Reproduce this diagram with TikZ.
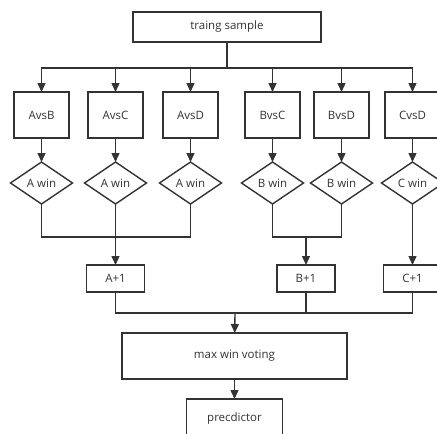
\documentclass[tikz,border=0pt]{standalone}
\usepackage{fontspec}
\setmainfont{Open Sans}
\usepackage{tikz}
\usetikzlibrary{positioning, arrows.meta, shapes.geometric}
\definecolor{ink}{HTML}{333333}
\definecolor{txt}{HTML}{333333}

\begin{document}
\begin{tikzpicture}[x=1pt, y=1pt,
        every node/.style={font=\fontsize{11.5}{13}\selectfont, text=txt},
        box/.style={rectangle, draw=ink, line width=1.4pt, fill=white,
          minimum width=55pt, minimum height=46pt, inner sep=0pt, outer sep=0pt},
        smallbox/.style={box, minimum width=58pt, minimum height=27pt},
        win/.style={diamond, draw=ink, line width=1.4pt, fill=white,
          minimum width=62pt, minimum height=42pt, inner sep=0pt, outer sep=0pt},
        conn/.style={draw=ink, line width=1.4pt},
        arr/.style={conn, -{Triangle[length=9pt, width=8pt]}}]

      \useasboundingbox (0,0) rectangle (437,-434);

      % top
      \node[box, minimum width=188pt, minimum height=30pt] (sample) at (227,-27) {traing sample};

      % pairwise classifiers
      \node[box] (AB) at (41.5,-115) {AvsB};
      \node[box, right=19pt of AB] (AC) {AvsC};
      \node[box, right=20pt of AC] (AD) {AvsD};
      \node[box, right=27pt of AD] (BC) {BvsC};
      \node[box, right=14pt of BC] (BD) {BvsD};
      \node[box, right=16pt of BD] (CD) {CvsD};

      % winners
      \node[win, below=24pt of AB] (wAB) {A win};
      \node[win, below=24pt of AC] (wAC) {A win};
      \node[win, below=24pt of AD] (wAD) {A win};
      \node[win, below=24pt of BC] (wBC) {B win};
      \node[win, below=24pt of BD] (wBD) {B win};
      \node[win, below=24pt of CD] (wCD) {C win};

      % scores
      \node[smallbox] (Ap) at (115.5,-278.5) {A+1};
      \node[smallbox] (Bp) at (306,-278.5) {B+1};
      \node[smallbox] (Cp) at (412.5,-278.5) {C+1};

      \node[box, minimum width=225pt] (vote) at (234.5,-356) {max win voting};
      \node[box, minimum width=96pt, minimum height=40pt, below=20pt of vote] (pred) {precdictor};

      % junction points
      \coordinate (split) at (227,-68);
      \coordinate (joinA) at (115.5,-237);
      \coordinate (joinB) at (306,-237);
      \coordinate (joinAll) at (235,-313);

      \draw[conn] (sample) -- (split);
      \foreach \n in {AB, AC, AD, BC, BD, CD}
        \draw[arr] (split) -| (\n);
      \foreach \n in {AB, AC, AD, BC, BD, CD}
        \draw[arr] (\n) -- (w\n);

      \foreach \n in {AB, AC, AD}
        \draw[conn] (w\n) |- (joinA);
      \draw[arr] (joinA) -- (Ap);
      \foreach \n in {BC, BD}
        \draw[conn] (w\n) |- (joinB);
      \draw[arr] (joinB) -- (Bp);
      \draw[arr] (wCD) -- (Cp);

      \foreach \n in {Ap, Bp, Cp}
        \draw[conn] (\n) |- (joinAll);
      \draw[arr] (joinAll) -- (vote);
      \draw[arr] (vote) -- (pred);
    \end{tikzpicture}
\end{document}
